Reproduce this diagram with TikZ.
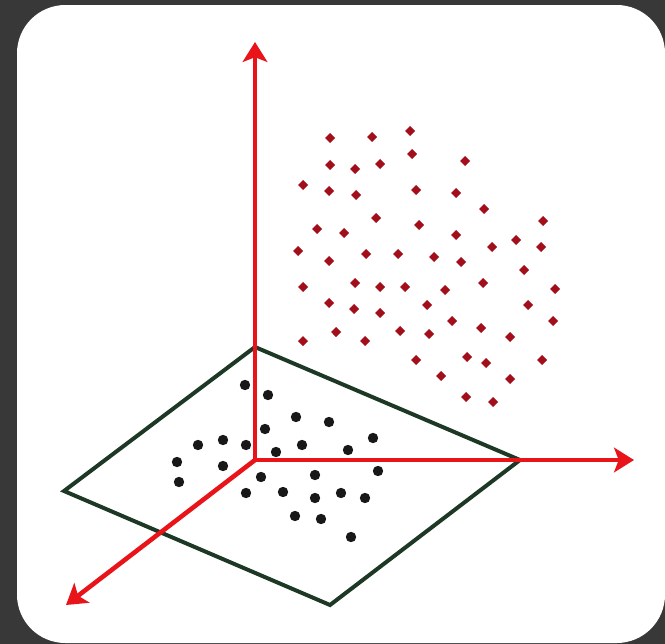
\documentclass[tikz,border=0pt]{standalone}
\usepackage{tikz}
\usetikzlibrary{arrows.meta}
\definecolor{bgdark}{RGB}{56, 56, 56}
\definecolor{axisred}{RGB}{232, 20, 26}
\definecolor{planegreen}{RGB}{30, 56, 38}
\definecolor{pointred}{RGB}{162, 14, 26}
\definecolor{pointblack}{RGB}{24, 24, 24}

\begin{document}
\begin{tikzpicture}[
        %% Pixel grid: x to the right, y downwards.
        x=0.03cm, y=-0.03cm,
        axis/.style={-{Stealth[length=17pt, width=21pt, inset=4pt]}, line width=3.9pt, color=axisred},
        plane/.style={draw=planegreen, line width=3.4pt, line join=miter},
        sample/.style={fill=pointblack},
        feature/.style={fill=pointred}
    ]
    %% --- Frame ---
    \fill[bgdark] (0, 0) rectangle (665, 644);
    \fill[white, rounded corners=1.45cm] (17, 5) rectangle (665, 643);

    %% --- Origin and axis tips ---
    \coordinate (O)    at (255, 460);
    \coordinate (ytip) at (255, 42);
    \coordinate (xtip) at (634, 460);
    \coordinate (ztip) at (66, 605);

    %% --- Plane corners ---
    \coordinate (ptop)    at (255, 347);
    \coordinate (pright)  at (520, 460);
    \coordinate (pbottom) at (330, 605);
    \coordinate (pleft)   at (64, 491);

    \draw[plane] (ptop) -- (pright) -- (pbottom) -- (pleft) -- cycle;

    %% --- Projected samples on the plane ---
    \foreach \x/\y in {245/385, 268/395, 296/417, 329/422, 265/429, 373/438,
                       198/445, 223/440, 246/445, 302/445, 276/452, 348/450,
                       177/462, 223/466, 378/471, 261/477, 315/475, 179/482,
                       246/493, 283/492, 315/498, 341/493, 365/498, 295/516,
                       321/519, 351/537}
        \fill[sample] (\x, \y) circle [radius=5.2];

    %% --- Original samples in space ---
    \foreach \x/\y in {330/138, 372/137, 410/131, 330/165, 355/169, 380/164,
                       412/154, 465/161, 303/185, 329/191, 356/195, 416/190,
                       456/193, 484/209, 376/218, 419/225, 317/229, 344/233,
                       456/235, 543/221, 516/240, 541/247, 492/247, 298/251,
                       329/261, 366/254, 398/254, 434/257, 461/262, 524/270,
                       303/287, 355/283, 380/287, 405/287, 445/290, 483/283,
                       555/289, 329/303, 354/309, 380/313, 427/305, 528/305,
                       452/321, 553/321, 336/332, 365/341, 400/331, 429/334,
                       481/328, 510/337, 303/341, 416/360, 467/357, 486/363,
                       542/360, 441/376, 510/379, 466/397, 493/402}
        \fill[feature] (\x, \y) +(0, -5) -- +(5, 0) -- +(0, 5) -- +(-5, 0) -- cycle;

    %% --- Axes ---
    \draw[axis] (O) -- (ytip);
    \draw[axis] (O) -- (xtip);
    \draw[axis] (O) -- (ztip);
\end{tikzpicture}
\end{document}
